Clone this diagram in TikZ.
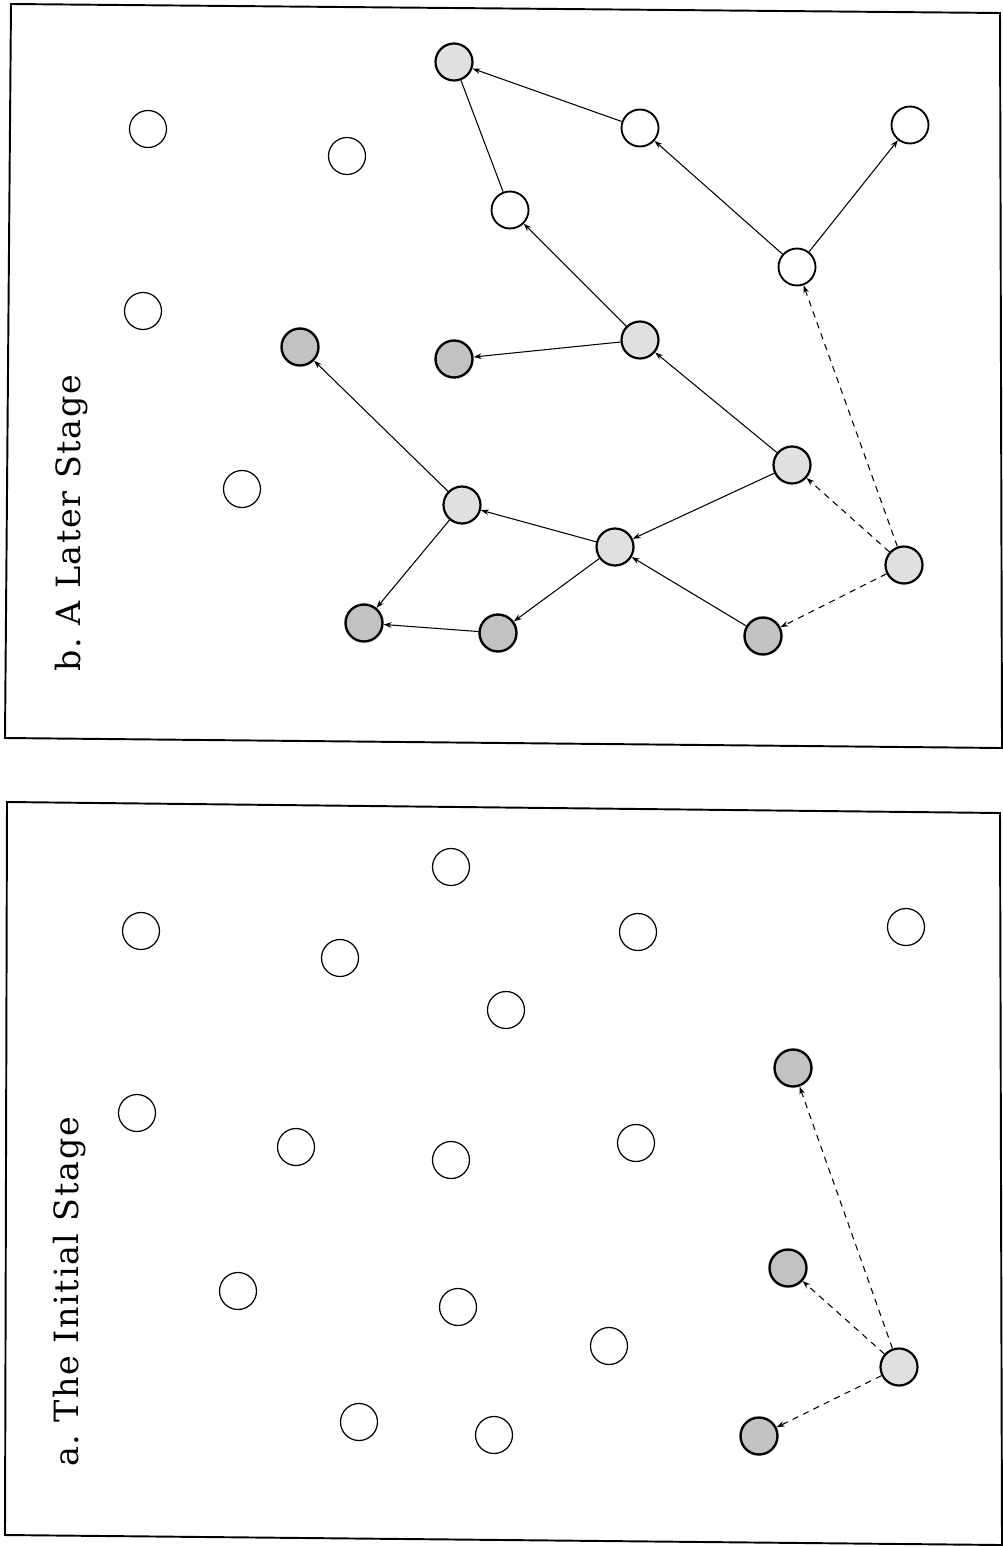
\documentclass[tikz,border=0pt]{standalone}
\usepackage{fontspec}
\setmainfont{DejaVu Serif}
\newfontfamily\lblfont[LetterSpace=5]{DejaVu Serif}
\usetikzlibrary{arrows.meta}
\tikzset{
  dotbase/.style={circle, minimum size=0.74cm, inner sep=0pt, draw=black, line width=0.7pt, fill=white},
  opn/.style={dotbase},
  tre/.style={dotbase, line width=1.05pt},
  shd/.style={dotbase, line width=1.35pt, fill=black!24},
  lshd/.style={dotbase, line width=1.25pt, fill=black!12},
  link/.style={line width=0.6pt, -{Stealth[length=4.5pt,width=3.2pt]}},
  plain/.style={line width=0.6pt},
  dlink/.style={link, dash pattern=on 3.6pt off 3pt},
  frame/.style={line width=1.1pt},
  lbl/.style={rotate=90, anchor=base, font=\lblfont\fontsize{19}{22}\selectfont}
}
\begin{document}
\begin{tikzpicture}[x=0.02cm, y=-0.02cm]
\useasboundingbox (0,0) rectangle (1003,1547);
% frames
\draw[frame] (11,4) -- (1000,13) -- (1002,748) -- (5,738) -- cycle;
\draw[frame] (7,802) -- (1000,813) -- (1002,1545) -- (5,1535) -- cycle;
% labels
\node[lbl] (lb) at (80,523) {b.\ A Later Stage};
\node[lbl] (la) at (78,1292) {a.\ The Initial Stage};

% ---------- top panel (b) ----------
\node[opn] (t1) at (148,129) {};
\node[opn] (t2) at (347,156) {};
\node[opn] (t3) at (143,311) {};
\node[opn] (t4) at (242,489) {};
\node[tre] (t5) at (640,128) {};
\node[tre] (t6) at (910,125) {};
\node[tre] (t7) at (510,210) {};
\node[tre] (t8) at (797,267) {};
\node[lshd] (s1) at (454,62) {};
\node[shd] (s2) at (300,347) {};
\node[shd] (s3) at (454,359) {};
\node[lshd] (s4) at (640,340) {};
\node[lshd] (s5) at (462,505) {};
\node[shd] (s6) at (364,623) {};
\node[shd] (s7) at (498,633) {};
\node[lshd] (s8) at (615,547) {};
\node[lshd] (s9) at (792,465) {};
\node[lshd] (s10) at (904,565) {};
\node[shd] (s11) at (763,636) {};

\draw[link] (t5) -- (s1);
\draw[plain] (t7) -- (s1);
\draw[link] (t8) -- (t5);
\draw[link] (t8) -- (t6);
\draw[dlink] (s10) -- (t8);
\draw[link] (s4) -- (t7);
\draw[link] (s4) -- (s3);
\draw[link] (s9) -- (s4);
\draw[link] (s9) -- (s8);
\draw[dlink] (s10) -- (s9);
\draw[dlink] (s10) -- (s11);
\draw[link] (s11) -- (s8);
\draw[link] (s8) -- (s7);
\draw[link] (s8) -- (s5);
\draw[link] (s5) -- (s2);
\draw[link] (s5) -- (s6);
\draw[link] (s7) -- (s6);

% ---------- bottom panel (a) ----------
\node[opn] (a1) at (141,931) {};
\node[opn] (a2) at (340,958) {};
\node[opn] (a3) at (451,867) {};
\node[opn] (a4) at (638,932) {};
\node[opn] (a5) at (906,927) {};
\node[opn] (a6) at (506,1010) {};
\node[opn] (a7) at (137,1113) {};
\node[opn] (a8) at (296,1147) {};
\node[opn] (a9) at (451,1160) {};
\node[opn] (a10) at (636,1143) {};
\node[opn] (a11) at (238,1291) {};
\node[opn] (a12) at (458,1307) {};
\node[opn] (a13) at (609,1346) {};
\node[opn] (a14) at (359,1422) {};
\node[opn] (a15) at (494,1435) {};
\node[shd] (b1) at (793,1068) {};
\node[shd] (b2) at (788,1268) {};
\node[lshd] (b3) at (899,1367) {};
\node[shd] (b4) at (759,1436) {};

\draw[dlink] (b3) -- (b1);
\draw[dlink] (b3) -- (b2);
\draw[dlink] (b3) -- (b4);
\end{tikzpicture}
\end{document}
